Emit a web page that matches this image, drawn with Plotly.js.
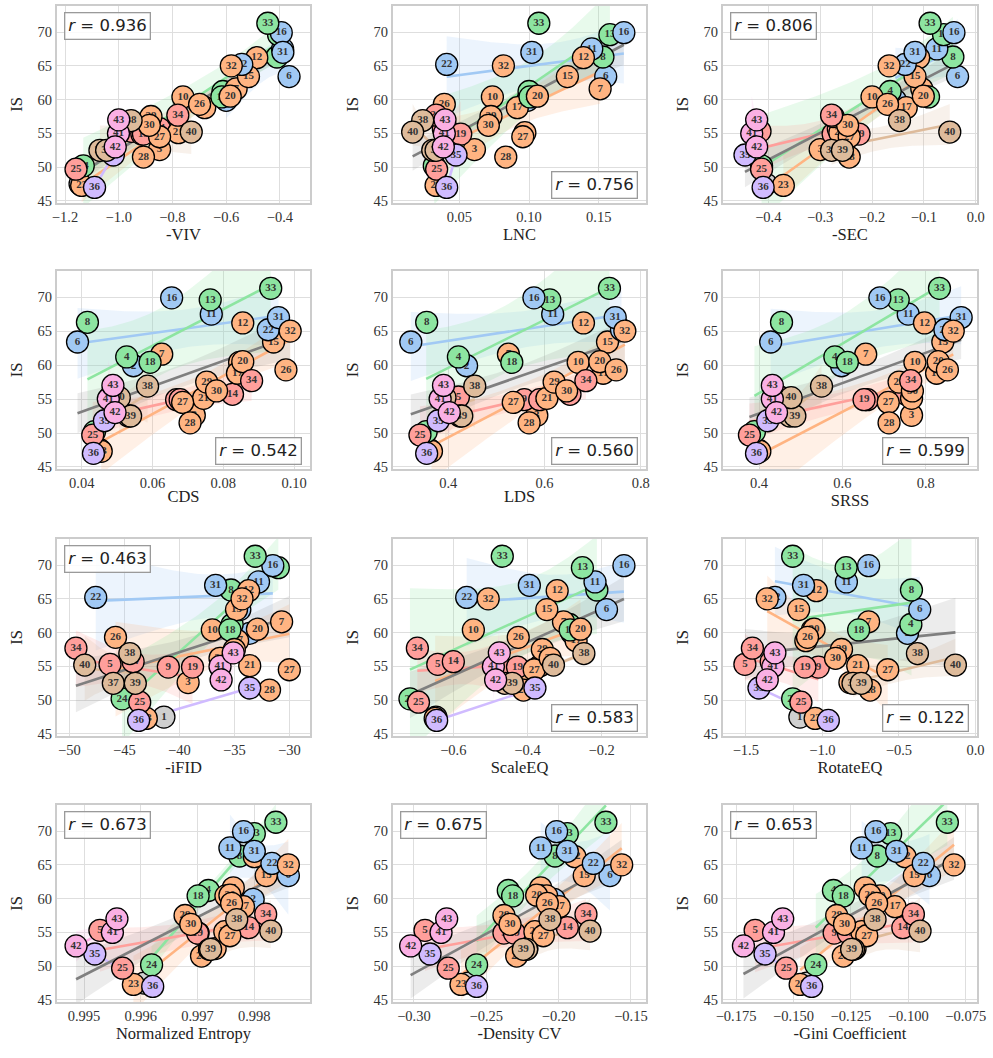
<!DOCTYPE html>
<html><head><meta charset="utf-8">
<script src="https://cdn.plot.ly/plotly-3.0.1.min.js"></script>
<style>body{margin:0;background:#fff}#chart{width:993px;height:1058px}</style>
</head><body><div id="chart"></div>
<script>
// ---------------- DATA ----------------
const ids = Array.from({length:43}, (_, i) => i + 1);
const IS = [47.5, 59.9, 52.6, 61.2, 55.3, 63.4, 61.6, 66.3, 54.9, 60.4, 67.5, 66.2, 69.6, 55.7, 63.4, 69.9, 58.8, 60.4, 54.9, 60.5, 55.1, 65.2, 47.3, 50.2, 49.7, 59.3, 54.5, 51.5, 57.5, 56.2, 67.0, 65.0, 71.3, 57.7, 51.8, 47.0, 52.5, 56.9, 52.5, 55.2, 55.0, 53.0, 57.0];
// group index per point: 0 blue,1 orange,2 green,3 red,4 purple,5 brown,6 pink,7 gray
const groupOf = [7,0,1,2,3,0,1,2,3,1, 0,1,2,3,1,0,1,2,3,1, 1,0,1,2,3,1,1,1,1,1, 0,1,2,3,4,4,5,5,5,5, 6,6,6];
const groupColors = ['#a1c9f4','#ffb482','#8de5a1','#ff9f9b','#d0bbff','#debb9b','#fab0e4','#cfcfcf'];

const negVIV = [-1.144, -0.60, -0.848, -0.612, -0.952, -0.366, -0.563, -0.411, -0.914, -0.761, -0.39, -0.486, -0.405, -0.848, -0.517, -0.395, -0.68, -0.616, -0.908, -0.585, -0.778, -0.542, -1.138, -1.132, -1.159, -0.699, -0.848, -0.908, -0.88, -0.886, -0.389, -0.581, -0.445, -0.78, -1.02, -1.09, -1.07, -0.954, -1.045, -0.73, -1.001, -1.013, -1.0];
const LNC = [0.035, 0.099, 0.0608, 0.100, 0.042, 0.155, 0.151, 0.153, 0.046, 0.0737, 0.145, 0.139, 0.158, 0.0385, 0.1275, 0.168, 0.0916, 0.1007, 0.051, 0.106, 0.097, 0.0409, 0.0333, 0.032, 0.0337, 0.0392, 0.0955, 0.0833, 0.0727, 0.0708, 0.102, 0.0816, 0.107, 0.0333, 0.0476, 0.0409, 0.0309, 0.0237, 0.0333, 0.0165, 0.0392, 0.0385, 0.0397];
const negSEC = [-0.4045, -0.155, -0.30, -0.165, -0.416, -0.035, -0.104, -0.044, -0.275, -0.2, -0.075, -0.11, -0.062, -0.265, -0.117, -0.042, -0.134, -0.091, -0.225, -0.101, -0.262, -0.136, -0.371, -0.413, -0.413, -0.17, -0.244, -0.244, -0.275, -0.247, -0.117, -0.167, -0.088, -0.278, -0.445, -0.41, -0.278, -0.147, -0.257, -0.05, -0.432, -0.4225, -0.4225];
const CDS = [0.0452, 0.0546, 0.0718, 0.0527, 0.048, 0.0388, 0.0626, 0.0416, 0.0668, 0.0846, 0.0766, 0.0855, 0.0763, 0.0826, 0.0942, 0.0654, 0.0840, 0.0593, 0.0678, 0.0855, 0.0744, 0.0927, 0.0455, 0.0436, 0.0431, 0.0977, 0.0685, 0.0706, 0.0753, 0.0781, 0.0956, 0.0989, 0.0934, 0.0880, 0.0464, 0.0433, 0.0532, 0.0586, 0.0538, 0.0506, 0.0475, 0.0494, 0.0488];
const LDS = [0.362, 0.438, 0.584, 0.421, 0.421, 0.322, 0.525, 0.355, 0.558, 0.670, 0.617, 0.681, 0.611, 0.653, 0.731, 0.578, 0.722, 0.532, 0.59, 0.715, 0.605, 0.760, 0.365, 0.354, 0.341, 0.749, 0.535, 0.568, 0.620, 0.646, 0.747, 0.767, 0.735, 0.686, 0.379, 0.355, 0.424, 0.455, 0.428, 0.393, 0.383, 0.402, 0.390];
const SRSS = [0.398, 0.598, 0.766, 0.582, 0.450, 0.428, 0.656, 0.454, 0.66, 0.774, 0.758, 0.797, 0.734, 0.753, 0.841, 0.690, 0.826, 0.612, 0.652, 0.830, 0.766, 0.846, 0.402, 0.389, 0.377, 0.852, 0.710, 0.712, 0.736, 0.768, 0.885, 0.866, 0.833, 0.764, 0.421, 0.394, 0.474, 0.550, 0.486, 0.477, 0.432, 0.442, 0.432];
const negIFID = [-41.4, -33.6, -39.2, -35.2, -46.3, -34.5, -30.7, -35.3, -41.0, -37.0, -32.8, -33.7, -31.0, -44.2, -34.8, -31.5, -34.7, -35.4, -38.8, -32.9, -33.6, -47.6, -43.0, -45.2, -43.6, -45.8, -30.0, -31.8, -35.0, -36.3, -36.7, -34.3, -33.1, -49.4, -33.6, -43.7, -46.0, -44.5, -44.0, -48.6, -36.3, -36.2, -35.1];
const ScaleEQ = [-0.647, -0.28, -0.425, -0.287, -0.642, -0.187, -0.303, -0.213, -0.472, -0.546, -0.218, -0.32, -0.252, -0.6, -0.348, -0.14, -0.269, -0.285, -0.427, -0.257, -0.366, -0.564, -0.649, -0.717, -0.694, -0.425, -0.382, -0.411, -0.36, -0.339, -0.395, -0.506, -0.468, -0.697, -0.38, -0.645, -0.461, -0.248, -0.441, -0.33, -0.492, -0.486, -0.476];
const RotateEQ = [-1.147, -0.444, -0.82, -0.422, -1.506, -0.364, -0.698, -0.418, -1.026, -1.065, -0.843, -1.039, -0.845, -1.334, -1.155, -0.698, -1.108, -0.763, -1.114, -1.054, -0.769, -1.31, -1.047, -1.194, -1.14, -1.097, -0.573, -0.688, -0.875, -0.914, -1.123, -1.36, -1.194, -1.457, -1.414, -0.961, -0.80, -0.379, -0.746, -0.131, -1.323, -1.36, -1.31];
const NormEntropy = [0.99606, 0.99798, 0.99731, 0.99719, 0.99528, 0.99860, 0.99763, 0.99774, 0.99701, 0.99750, 0.99757, 0.99800, 0.99800, 0.99790, 0.99821, 0.99781, 0.99781, 0.99701, 0.99700, 0.99757, 0.99748, 0.99831, 0.99587, 0.99619, 0.99568, 0.99760, 0.99757, 0.99707, 0.99678, 0.99688, 0.99800, 0.99860, 0.99838, 0.99820, 0.99519, 0.99621, 0.99721, 0.99769, 0.99723, 0.99829, 0.99550, 0.99486, 0.99558];
const negDensityCV = [-0.2624, -0.2032, -0.222, -0.2348, -0.2924, -0.1645, -0.2124, -0.2025, -0.2378, -0.2083, -0.2124, -0.1887, -0.194, -0.194, -0.1823, -0.2014, -0.1995, -0.2318, -0.2306, -0.2152, -0.2164, -0.176, -0.2675, -0.2567, -0.2763, -0.2078, -0.2106, -0.229, -0.2378, -0.2336, -0.194, -0.1564, -0.1673, -0.1811, -0.2889, -0.2567, -0.2221, -0.206, -0.2244, -0.1783, -0.2813, -0.3023, -0.2774];
const negGini = [-0.1442, -0.1138, -0.1232, -0.1326, -0.1667, -0.0908, -0.1188, -0.1135, -0.1323, -0.1123, -0.1203, -0.1014, -0.1077, -0.1024, -0.0974, -0.1141, -0.1058, -0.1283, -0.1261, -0.1167, -0.1203, -0.0935, -0.1471, -0.1403, -0.1532, -0.1138, -0.1181, -0.1283, -0.1312, -0.1278, -0.1051, -0.0801, -0.083, -0.0978, -0.1624, -0.1421, -0.1239, -0.1145, -0.1247, -0.0949, -0.1587, -0.1718, -0.1547];

const metricNames = ['-VIV','LNC','-SEC','CDS','LDS','SRSS','-iFID','ScaleEQ','RotateEQ','Normalized Entropy','-Density CV','-Gini Coefficient'];
const metricData = [negVIV, LNC, negSEC, CDS, LDS, SRSS, negIFID, ScaleEQ, RotateEQ, NormEntropy, negDensityCV, negGini];
const rLabels = ['0.936','0.756','0.806','0.542','0.560','0.599','0.463','0.583','0.122','0.673','0.675','0.653'];
const rCorner = ['tl','br','tl','br','br','br','tl','br','br','tl','tl','tl'];
const xRanges = [[-1.2298,-0.288],[0.0024,0.1839],[-0.4874,0.0025],[0.0330,0.1045],[0.285,0.811],[0.3136,0.923],
                 [-51.12,-28.12],[-0.7627,-0.0805],[-1.649,0.01],[0.994524,0.998981],[-0.3145,-0.1396],[-0.1807,-0.0701]];
const xTicks = [[-1.2,-1.0,-0.8,-0.6,-0.4],[0.05,0.10,0.15],[-0.4,-0.3,-0.2,-0.1,0.0],[0.04,0.06,0.08,0.10],[0.4,0.6,0.8],[0.4,0.6,0.8],
                [-50,-45,-40,-35,-30],[-0.6,-0.4,-0.2],[-1.5,-1.0,-0.5,0.0],[0.995,0.996,0.997,0.998],[-0.30,-0.25,-0.20,-0.15],[-0.175,-0.150,-0.125,-0.100,-0.075]];
const xFormats = ['.1f','.2f','.1f','.2f','.1f','.1f','d','.1f','.1f','.3f','.2f','.3f'];
const yTicks = [45,50,55,60,65,70];
const yRange = [44.7, 73.85];

// ---------------- LAYOUT GEOMETRY ----------------
const W = 993, H = 1058;
const colPx = [[57,310],[393,646],[723,977]];
const rowPx = [[6,203],[271,469],[539,736],[805,1002]];

function hexToRgba(h, a){
  const r=parseInt(h.slice(1,3),16), g=parseInt(h.slice(3,5),16), b=parseInt(h.slice(5,7),16);
  return `rgba(${r},${g},${b},${a})`;
}
function fitBand(xs, ys){
  const n = xs.length;
  const xm = xs.reduce((a,b)=>a+b,0)/n, ym = ys.reduce((a,b)=>a+b,0)/n;
  let sxx=0, sxy=0;
  for(let i=0;i<n;i++){ sxx+=(xs[i]-xm)**2; sxy+=(xs[i]-xm)*(ys[i]-ym); }
  const b = sxy/sxx, a = ym - b*xm;
  let sse=0; for(let i=0;i<n;i++){ sse += (ys[i]-(a+b*xs[i]))**2; }
  const s2 = n>2 ? sse/(n-2) : 0;
  const lo = Math.min(...xs), hi = Math.max(...xs);
  const gx=[], gy=[], up=[], dn=[];
  const N=60;
  for(let k=0;k<=N;k++){
    const x = lo + (hi-lo)*k/N;
    const y = a + b*x;
    const se = Math.sqrt(s2*(1/n + (x-xm)**2/sxx));
    gx.push(x); gy.push(y); up.push(y+1.96*se); dn.push(y-1.96*se);
  }
  return {gx, gy, up, dn, band: n>2};
}

const traces = [];
const layout = {
  width: W, height: H, margin:{l:0,r:0,t:0,b:0}, showlegend:false,
  paper_bgcolor:'#fff', plot_bgcolor:'#fff', annotations:[]
};
const tickFont = {family:'Liberation Serif, Times New Roman, serif', size:14.5, color:'#333'};
const titleFont = {family:'Liberation Serif, Times New Roman, serif', size:16.5, color:'#222'};

metricData.forEach((xs, k) => {
  const r = Math.floor(k/3), c = k%3;
  const xa = k===0 ? 'x' : 'x'+(k+1), ya = k===0 ? 'y' : 'y'+(k+1);
  const xKey = k===0 ? 'xaxis' : 'xaxis'+(k+1), yKey = k===0 ? 'yaxis' : 'yaxis'+(k+1);
  layout[xKey] = {
    domain:[colPx[c][0]/W, colPx[c][1]/W], range:xRanges[k], anchor:ya,
    tickvals:xTicks[k], tickformat:xFormats[k], showgrid:true, gridcolor:'#dedede', gridwidth:1,
    showline:true, linecolor:'#cccccc', linewidth:2, mirror:true, zeroline:false, ticks:'',
    tickfont:tickFont, title:{text:metricNames[k], font:titleFont, standoff:0}, automargin:false
  };
  layout[yKey] = {
    domain:[1-rowPx[r][1]/H, 1-rowPx[r][0]/H], range:yRange, anchor:xa,
    tickvals:yTicks, showgrid:true, gridcolor:'#dedede', gridwidth:1,
    showline:true, linecolor:'#cccccc', linewidth:2, mirror:true, zeroline:false, ticks:'',
    tickfont:tickFont, title:{text:'IS', font:titleFont, standoff:11}, automargin:false
  };

  // group regressions
  const lineTraces = [];
  for(let g=0; g<7; g++){
    const gx=[], gy=[];
    ids.forEach((id,i)=>{ if(groupOf[i]===g){ gx.push(xs[i]); gy.push(IS[i]); } });
    if(gx.length<2) continue;
    const f = fitBand(gx, gy);
    if(f.band){
      traces.push({type:'scatter', mode:'lines', xaxis:xa, yaxis:ya, hoverinfo:'skip',
        x: f.gx.concat(f.gx.slice().reverse()), y: f.up.concat(f.dn.slice().reverse()),
        fill:'toself', fillcolor:hexToRgba(groupColors[g],0.2), line:{width:0}});
    }
    lineTraces.push({type:'scatter', mode:'lines', xaxis:xa, yaxis:ya, hoverinfo:'skip',
      x:f.gx, y:f.gy, line:{color:groupColors[g], width:2.6}});
  }
  // overall regression
  const fo = fitBand(xs, IS);
  traces.push({type:'scatter', mode:'lines', xaxis:xa, yaxis:ya, hoverinfo:'skip',
    x: fo.gx.concat(fo.gx.slice().reverse()), y: fo.up.concat(fo.dn.slice().reverse()),
    fill:'toself', fillcolor:'rgba(128,128,128,0.15)', line:{width:0}});
  lineTraces.forEach(t=>traces.push(t));
  traces.push({type:'scatter', mode:'lines', xaxis:xa, yaxis:ya, hoverinfo:'skip',
    x:fo.gx, y:fo.gy, line:{color:'#7f7f7f', width:2.6}});

  // points, one trace each so later circles cover earlier labels
  ids.forEach((id,i)=>{
    traces.push({type:'scatter', mode:'markers+text', xaxis:xa, yaxis:ya, hoverinfo:'skip',
      x:[xs[i]], y:[IS[i]], text:[String(id)], textposition:'middle center',
      textfont:{family:'Liberation Serif, Times New Roman, serif', size:11, color:'#333', weight:'bold'},
      marker:{size:22, color:groupColors[groupOf[i]], line:{color:'#000', width:1.3}}});
  });

  const tl = rCorner[k]==='tl';
  layout.annotations.push({
    xref: xa+' domain', yref: ya+' domain',
    x: tl?0:1, y: tl?1:0, xanchor: tl?'left':'right', yanchor: tl?'top':'bottom',
    xshift: tl?7:-8, yshift: tl?-6:4, showarrow:false,
    text:'<i>r</i> = '+rLabels[k],
    font:{family:'DejaVu Sans, sans-serif', size:16.5, color:'#222'},
    bgcolor:'rgba(255,255,255,0.85)', bordercolor:'#9a9a9a', borderwidth:1.3, borderpad:3
  });
});

Plotly.newPlot('chart', traces, layout, {staticPlot:true, displayModeBar:false});
</script></body></html>
